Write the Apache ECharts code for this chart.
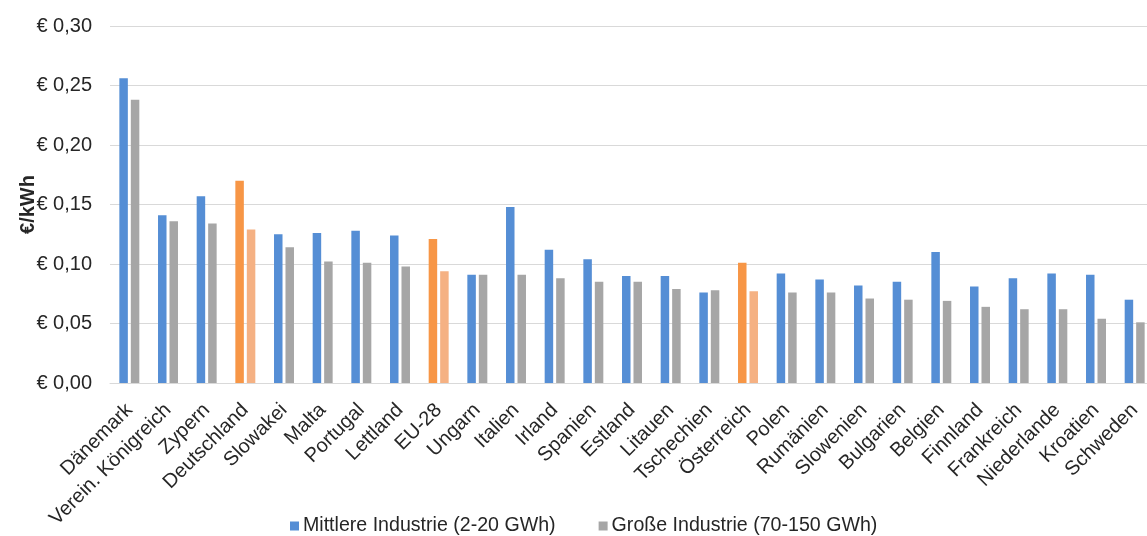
<!DOCTYPE html>
<html>
<head>
<meta charset="utf-8">
<script src="https://cdn.jsdelivr.net/npm/echarts@6/dist/echarts.min.js"></script>
<style>
html,body{margin:0;padding:0;background:#fff;overflow:hidden;}
#chart{width:1160px;height:536px;}
</style>
</head>
<body>
<div id="chart"></div>
<script>
var categories = ['Dänemark','Verein. Königreich','Zypern','Deutschland','Slowakei','Malta','Portugal','Lettland','EU-28','Ungarn','Italien','Irland','Spanien','Estland','Litauen','Tschechien','Österreich','Polen','Rumänien','Slowenien','Bulgarien','Belgien','Finnland','Frankreich','Niederlande','Kroatien','Schweden'];
var mittlere = [0.256,0.141,0.157,0.170,0.125,0.126,0.128,0.124,0.121,0.091,0.148,0.112,0.104,0.090,0.090,0.076,0.101,0.092,0.087,0.082,0.085,0.110,0.081,0.088,0.092,0.091,0.070];
var grosse   = [0.238,0.136,0.134,0.129,0.114,0.102,0.101,0.098,0.094,0.091,0.091,0.088,0.085,0.085,0.079,0.078,0.077,0.076,0.076,0.071,0.070,0.069,0.064,0.062,0.062,0.054,0.051];
var highlighted = ['Deutschland','EU-28','Österreich'];
var seriesNames = ['Mittlere Industrie (2-20 GWh)','Große Industrie (70-150 GWh)'];

var BLUE = '#558ED5', GRAY = '#A6A6A6', ORANGE = '#F79646', LORANGE = '#F5B183';
var FONT = '"Liberation Sans", Arial, sans-serif';
var TXT = '#262626';

function mk(vals, hl) {
  return vals.map(function (v, i) {
    if (highlighted.indexOf(categories[i]) >= 0) {
      return { value: v, itemStyle: { color: hl } };
    }
    return v;
  });
}

var chart = echarts.init(document.getElementById('chart'));
chart.setOption({
  animation: false,
  textStyle: { fontFamily: FONT, color: TXT },
  grid: { left: 110, top: 26, width: 1044, height: 357, containLabel: false },
  legend: {
    top: 511,
    left: 285,
    itemWidth: 9,
    itemHeight: 9,
    itemGap: 43,
    icon: 'rect',
    textStyle: { fontFamily: FONT, fontSize: 19.6, color: TXT, padding: [0, 0, 0, -1] },
    data: seriesNames
  },
  xAxis: {
    type: 'category',
    data: categories,
    axisLine: { lineStyle: { color: '#D9D9D9', width: 1 } },
    axisTick: { show: false },
    axisLabel: { rotate: 45, interval: 0, fontSize: 20, color: TXT, fontFamily: FONT, margin: 24 }
  },
  yAxis: {
    type: 'value',
    min: 0, max: 0.30, interval: 0.05,
    name: '€/kWh',
    nameLocation: 'middle',
    nameGap: 72,
    nameRotate: 90,
    nameMoveOverlap: false,
    nameTextStyle: { fontSize: 20, fontWeight: 'bold', color: TXT, fontFamily: FONT },
    axisLine: { show: false },
    axisTick: { show: false },
    splitLine: { lineStyle: { color: '#D9D9D9', width: 1 } },
    axisLabel: {
      fontSize: 20, color: TXT, fontFamily: FONT, margin: 18,
      formatter: function (v) { return '€ ' + v.toFixed(2).replace('.', ','); }
    }
  },
  series: [
    {
      name: seriesNames[0], type: 'bar', data: mk(mittlere, ORANGE),
      itemStyle: { color: BLUE }, barWidth: 8.5, barGap: '35%'
    },
    {
      name: seriesNames[1], type: 'bar', data: mk(grosse, LORANGE),
      itemStyle: { color: GRAY }, barWidth: 8.5, barGap: '35%'
    }
  ]
});
</script>
</body>
</html>
